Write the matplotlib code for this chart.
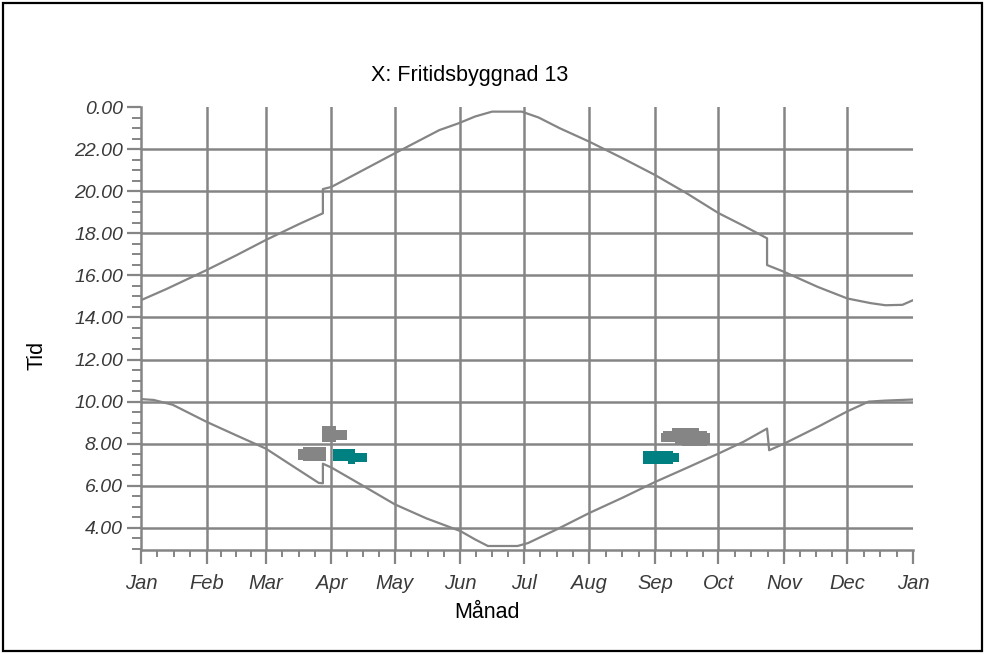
import numpy as np
import matplotlib.pyplot as plt
from matplotlib.patches import Rectangle
from matplotlib.ticker import MultipleLocator, FixedLocator, FuncFormatter


# ─────────────────────────────────────────────────────────────────────────────
# DATA  (day of year, hour of day)
# ─────────────────────────────────────────────────────────────────────────────

MONTH_LABELS = ["Jan", "Feb", "Mar", "Apr", "May", "Jun", "Jul",
                "Aug", "Sep", "Oct", "Nov", "Dec", "Jan"]
MONTH_STARTS = [0, 31, 59, 90, 120, 151, 181, 212, 243, 273, 304, 334, 365]

# upper curve (sunset), jumps at the daylight-saving shifts
sunset_days  = [0, 12, 31, 45, 59, 75, 86, 86, 90, 105, 120, 141, 150,
                158, 166, 180, 188, 198, 212, 228, 243, 258, 273, 285,
                296, 296, 304, 320, 334, 345, 352, 360, 365]
sunset_hours = [14.82, 15.35, 16.25, 16.95, 17.68, 18.45, 18.95, 20.10,
                20.20, 21.00, 21.80, 22.90, 23.22, 23.55, 23.78, 23.78,
                23.50, 22.99, 22.35, 21.55, 20.77, 19.90, 18.96, 18.35,
                17.76, 16.49, 16.17, 15.45, 14.90, 14.68, 14.58, 14.60,
                14.82]

# lower curve (sunrise)
sunrise_days  = [0, 6, 15, 31, 45, 59, 72, 84, 86, 86, 90, 105, 120, 135,
                 151, 158, 164, 178, 183, 197, 212, 228, 243, 258, 273,
                 285, 296, 297, 304, 320, 334, 344, 352, 365]
sunrise_hours = [10.12, 10.08, 9.85, 9.04, 8.40, 7.77, 6.92, 6.14, 6.12,
                 7.05, 6.87, 6.00, 5.12, 4.45, 3.85, 3.45, 3.14, 3.14,
                 3.28, 3.95, 4.71, 5.45, 6.18, 6.85, 7.53, 8.10, 8.72,
                 7.69, 8.00, 8.80, 9.54, 10.00, 10.05, 10.10]

# shading blobs: (first day, last day, low hour, high hour)
grey_blocks = [
    (85.5, 92.0, 8.09, 8.82),
    (92.0, 97.3, 8.16, 8.66),
    (76.5, 87.5, 7.16, 7.86),
    (74.2, 76.5, 7.25, 7.74),
    (245.8, 268.8, 8.09, 8.51),
    (247.0, 267.5, 8.51, 8.62),
    (251.0, 264.0, 8.62, 8.74),
    (252.5, 268.8, 7.98, 8.09),
    (256.0, 267.5, 7.88, 7.98),
]
teal_blocks = [
    (91.0, 101.2, 7.17, 7.74),
    (98.0, 101.2, 7.02, 7.17),
    (101.2, 107.0, 7.13, 7.56),
    (237.3, 251.7, 7.06, 7.66),
    (251.7, 254.2, 7.15, 7.55),
]

TITLE  = "X: Fritidsbyggnad 13"
XLABEL = "Månad"
YLABEL = "Tid"


# ─────────────────────────────────────────────────────────────────────────────
# STYLE
# ─────────────────────────────────────────────────────────────────────────────

GREY  = "#858585"
TEAL  = "#008080"
TXT   = "#3a3a3a"
plt.rcParams["font.family"] = ["Liberation Sans", "DejaVu Sans"]


# ─────────────────────────────────────────────────────────────────────────────
# PLOT
# ─────────────────────────────────────────────────────────────────────────────

fig = plt.figure(figsize=(9.85, 6.54), dpi=100)
ax  = fig.add_axes([141 / 985, 1 - 550 / 654, 772 / 985, 443 / 654])

ax.set_xlim(0, 365)
ax.set_ylim(2.95, 24)

# blobs
for blocks, color in ((grey_blocks, GREY), (teal_blocks, TEAL)):
    for d0, d1, h0, h1 in blocks:
        ax.bar(d0, h1 - h0, width=d1 - d0, bottom=h0, align="edge",
               color=color, linewidth=0, zorder=3)

# curves
ax.plot(sunset_days,  sunset_hours,  color=GREY, linewidth=1.6, zorder=4)
ax.plot(sunrise_days, sunrise_hours, color=GREY, linewidth=1.6, zorder=4)

# ── ticks ────────────────────────────────────────────────────────────────
starts = np.array(MONTH_STARTS)
minor  = np.concatenate([starts[:-1] + np.diff(starts) * k / 4 for k in (1, 2, 3)])
ax.xaxis.set_major_locator(FixedLocator(MONTH_STARTS))
ax.xaxis.set_minor_locator(FixedLocator(np.sort(minor)))
ax.set_xticklabels(MONTH_LABELS)

ax.yaxis.set_major_locator(FixedLocator(np.arange(4, 25, 2)))
ax.yaxis.set_minor_locator(MultipleLocator(0.5))
ax.yaxis.set_major_formatter(FuncFormatter(lambda v, p: f"{v % 24:.2f}"))

ax.tick_params(axis="x", which="major", length=10, width=1.6, color=GREY,
               pad=7, labelsize=14.5, labelcolor=TXT)
ax.tick_params(axis="x", which="minor", length=5, width=1.4, color=GREY)
ax.tick_params(axis="y", which="major", length=10, width=1.6, color=GREY,
               pad=3, labelsize=14, labelcolor=TXT)
ax.tick_params(axis="y", which="minor", length=6.5, width=1.4, color=GREY)
for lbl in ax.get_xticklabels() + ax.get_yticklabels():
    lbl.set_fontstyle("italic")

# ── grid / spines ────────────────────────────────────────────────────────
ax.grid(True, which="major", color=GREY, linewidth=1.8, zorder=1)
ax.set_axisbelow(True)
ax.get_xgridlines()[0].set_visible(False)
ax.get_xgridlines()[-1].set_visible(False)
ax.get_ygridlines()[-1].set_visible(False)

for side in ("top", "right"):
    ax.spines[side].set_visible(False)
for side in ("left", "bottom"):
    ax.spines[side].set_color(GREY)
    ax.spines[side].set_linewidth(1.8)

# ── texts ────────────────────────────────────────────────────────────────
fig.text(470 / 985, 1 - 76 / 654, TITLE, ha="center", va="center",
         fontsize=15.5, color="black")
fig.text(487 / 985, 1 - 612 / 654, XLABEL, ha="center", va="center",
         fontsize=15.5, color="black")
fig.text(37 / 985, 1 - 355 / 654, YLABEL, ha="center", va="center",
         rotation=90, fontsize=15.5, color="black")

# outer frame
fig.patches.append(Rectangle((0.003, 0.004), 0.994, 0.992, transform=fig.transFigure,
                             fill=False, edgecolor="black", linewidth=1.6))

fig.savefig("out.png", dpi=100)
plt.close(fig)
